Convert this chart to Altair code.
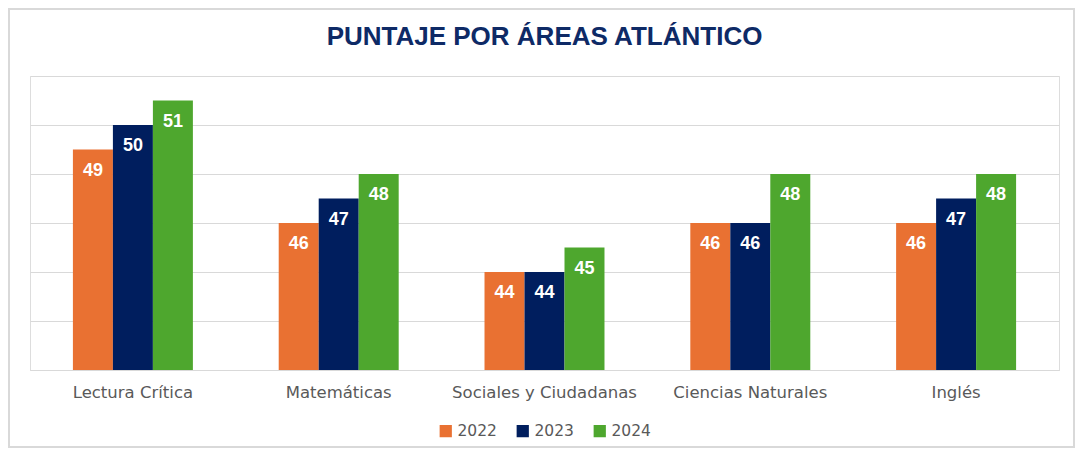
import altair as alt
import pandas as pd

categories = ["Lectura Crítica", "Matemáticas", "Sociales y Ciudadanas", "Ciencias Naturales", "Inglés"]
years = ["2022", "2023", "2024"]
values_2022 = [49, 46, 44, 46, 46]
values_2023 = [50, 47, 44, 46, 47]
values_2024 = [51, 48, 45, 48, 48]
colors = ["#E97132", "#001E5E", "#4EA72E"]

rows = []
for i, c in enumerate(categories):
    for y, vals in zip(years, [values_2022, values_2023, values_2024]):
        rows.append({"area": c, "year": y, "score": vals[i]})
df = pd.DataFrame(rows)

W, H = 1029, 294
PL, PR, PT, PB = 22, 16, 68, 78

x_enc = alt.X("area:N", sort=categories, title=None,
              scale=alt.Scale(paddingInner=0.417, paddingOuter=0.2085),
              axis=alt.Axis(labelAngle=0, ticks=False, domainColor="#D9D9D9", domainWidth=1,
                            labelFontSize=16.5, labelColor="#595959", labelFont="DejaVu Sans",
                            labelPadding=14, labelLimit=400))
xo_enc = alt.XOffset("year:N", sort=years, scale=alt.Scale(paddingInner=0, paddingOuter=0))
y_scale = alt.Scale(domain=[40, 52], zero=False, nice=False)

bars = alt.Chart(df).mark_bar().encode(
    x=x_enc,
    xOffset=xo_enc,
    y=alt.Y("score:Q", scale=y_scale, title=None,
            axis=alt.Axis(values=[40, 42, 44, 46, 48, 50, 52], labels=False, ticks=False,
                          domain=False, grid=True, gridColor="#D9D9D9", gridWidth=1)),
    y2=alt.datum(40),
    color=alt.Color("year:N", sort=years, scale=alt.Scale(domain=years, range=colors),
                    legend=alt.Legend(title=None, orient="none", direction="horizontal",
                                      legendX=408, legendY=347,
                                      symbolType="square", symbolSize=150, symbolStrokeWidth=0,
                                      labelFontSize=15.5, labelColor="#595959", labelFont="DejaVu Sans",
                                      columnPadding=18)),
)

labels = alt.Chart(df).mark_text(color="white", fontWeight="bold", fontSize=18,
                                 font="Liberation Sans", baseline="middle", dy=21).encode(
    x=alt.X("area:N", sort=categories),
    xOffset=alt.XOffset("year:N", sort=years),
    y=alt.Y("score:Q", scale=y_scale),
    text=alt.Text("score:Q"),
)

frame = alt.Chart(alt.Data(values=[{"f": 1}])).mark_rect(
    fill=None, stroke="#D9D9D9", strokeWidth=2).encode(
    x=alt.value(-PL + 1), x2=alt.value(W + PR - 1),
    y=alt.value(-PT + 1), y2=alt.value(H + PB - 1),
)

chart = alt.layer(bars, labels, frame).properties(
    width=W, height=H,
    padding={"left": PL, "right": PR, "top": PT, "bottom": PB},
    autosize=alt.AutoSizeParams(type="none"),
    title=alt.TitleParams("PUNTAJE POR ÁREAS ATLÁNTICO", font="Liberation Sans", fontSize=26,
                          fontWeight="bold", color="#0E2A66", anchor="middle", offset=-42),
).configure_view(stroke=None).configure(background="white")

chart.save("out.html", embed_options={"renderer": "svg", "actions": False})
